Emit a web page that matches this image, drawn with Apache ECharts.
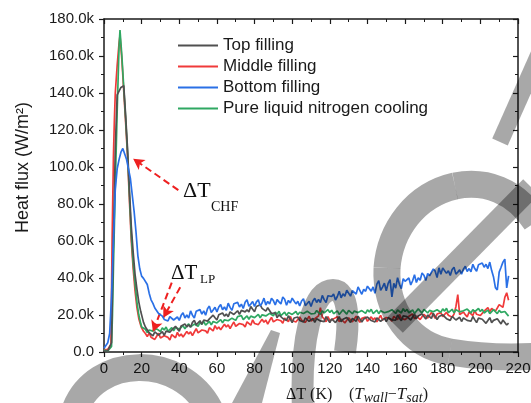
<!DOCTYPE html>
<html>
<head>
<meta charset="utf-8">
<script src="https://cdn.jsdelivr.net/npm/echarts@6.0.0/dist/echarts.min.js"></script>
<style>
  html, body { margin: 0; padding: 0; background: #fff; }
  #chart { width: 531px; height: 403px; }
</style>
</head>
<body>
<div id="chart"></div>
<script>
// heat flux in k W/m2, ΔT in K
const seriesNames = ['Top filling', 'Middle filling', 'Bottom filling', 'Pure liquid nitrogen cooling'];
const seriesColors = ['#505050', '#f03a3a', '#2a70e6', '#2fa862'];

// rising edge + CHF peak, [ΔT, q]
const topHead = [[0, 0.5], [1, 1.0], [2, 0.6], [3, 1.5], [4, 5], [5, 60], [6, 110], [7, 139], [8, 141], [9, 143], [10, 144], [10.5, 144],
  [11.5, 128], [12.5, 110], [13.5, 88], [14.5, 68], [15.5, 54], [16.5, 42], [17.5, 34], [18.5, 27], [19.5, 22]];
const middleHead = [[0, 1.2], [1, 0.8], [2, 1.5], [3, 0.6], [3.7, 4], [4.3, 60], [5, 105], [5.5, 125], [6, 140], [7, 155], [8, 167], [8.5, 171],
  [9.5, 158], [10.5, 141], [11.5, 124], [12.5, 106], [13.5, 82], [14.5, 60], [15.5, 45], [16.5, 33], [17.5, 24], [18.5, 18], [19.5, 14.5]];
const bottomHead = [[0, 2], [1, 3], [2, 5], [3, 10], [4, 30], [5, 60], [6, 88], [7, 99], [8, 104], [9, 108], [10, 110], [11, 107],
  [12, 104], [13, 99], [14, 94], [15, 85], [16, 76], [17, 65], [18, 52], [19, 45]];
const pureHead = [[0, 1], [1, 1.5], [2, 0.5], [3, 1], [4, 3], [4.5, 20], [5, 45], [6, 90], [7, 130], [8, 165], [8.5, 174],
  [9.5, 160], [10.5, 143], [11.5, 126], [12.5, 108], [13.5, 85], [14.5, 63], [15.5, 48], [16.5, 37], [17.5, 27], [18.5, 20], [19.5, 15.5]];

// film boiling tail, one reading per K from 20 K to 215 K
const dtTail = Array.from({ length: 196 }, (_, i) => 20 + i);
const topTail = [
  21.0, 16.0, 13.5, 13.3, 10.4, 10.6, 8.7, 10.9, 11.7, 9.1,
  9.9, 11.0, 9.0, 11.3, 12.3, 10.7, 11.9, 10.9, 13.9, 12.5,
  11.3, 14.1, 13.9, 15.2, 13.6, 14.7, 13.4, 16.0, 17.1, 14.7,
  15.7, 16.9, 15.0, 17.3, 18.3, 16.7, 17.9, 16.9, 19.9, 18.5,
  17.3, 20.1, 19.8, 21.1, 19.4, 20.5, 19.1, 21.7, 22.7, 20.3,
  21.2, 22.3, 20.3, 22.5, 23.4, 21.7, 22.8, 21.7, 24.6, 23.1,
  21.8, 24.6, 24.3, 25.5, 23.6, 24.2, 22.1, 23.9, 24.0, 20.8,
  20.9, 21.2, 18.6, 20.1, 20.4, 18.1, 18.7, 17.1, 19.6, 17.7,
  15.9, 18.4, 17.9, 18.9, 17.0, 17.8, 16.2, 18.5, 19.3, 16.6,
  17.3, 18.2, 16.0, 18.0, 18.7, 16.8, 17.7, 16.4, 19.1, 17.4,
  15.9, 17.9, 18.4, 15.9, 17.4, 19.1, 16.4, 17.7, 16.8, 18.7,
  18.0, 16.0, 18.2, 17.3, 16.6, 19.3, 18.5, 16.2, 17.8, 17.0,
  18.9, 18.9, 17.0, 17.8, 16.2, 18.5, 19.3, 16.6, 17.3, 18.2,
  16.4, 18.5, 19.3, 17.4, 18.4, 17.2, 20.0, 18.3, 16.9, 19.5,
  19.1, 19.1, 19.7, 17.3, 18.9, 20.6, 18.0, 19.4, 18.6, 20.5,
  19.9, 17.8, 20.0, 19.0, 18.2, 20.9, 20.0, 17.6, 19.2, 18.3,
  20.1, 20.0, 18.0, 18.7, 17.1, 19.3, 20.1, 17.3, 17.9, 18.8,
  16.5, 18.4, 19.0, 17.1, 17.9, 16.6, 19.2, 17.5, 15.9, 18.3,
  17.8, 17.7, 18.1, 15.5, 17.0, 18.6, 15.9, 17.1, 16.2, 18.0,
  17.2, 15.2, 17.3, 16.3, 14.6, 15.6
];
const middleTail = [
  13.0, 11.2, 10.0, 8.4, 10.2, 8.0, 9.0, 6.8, 8.5, 10.1,
  7.6, 7.1, 8.8, 9.3, 7.9, 6.5, 9.4, 9.0, 7.7, 10.6,
  8.6, 9.7, 8.1, 8.7, 11.1, 9.7, 10.9, 8.9, 10.8, 12.6,
  10.3, 10.0, 11.9, 12.6, 11.4, 10.2, 13.1, 12.7, 11.4, 14.3,
  12.4, 13.5, 12.0, 12.5, 15.0, 13.5, 14.7, 12.6, 14.5, 16.2,
  13.9, 13.5, 15.4, 16.0, 14.8, 13.5, 16.3, 15.8, 14.5, 17.4,
  15.4, 16.4, 14.8, 15.3, 17.7, 16.1, 17.2, 15.1, 17.0, 18.7,
  16.3, 15.9, 17.6, 18.2, 16.9, 15.5, 18.3, 17.8, 16.4, 19.2,
  17.0, 17.9, 16.2, 16.6, 18.9, 17.2, 18.2, 16.0, 17.7, 19.3,
  16.8, 16.3, 18.0, 18.5, 19.5, 24.0, 19.0, 17.8, 16.4, 19.1,
  17.0, 16.2, 17.9, 17.0, 19.1, 16.4, 17.8, 18.4, 15.7, 17.1,
  18.5, 18.0, 16.3, 16.8, 19.3, 17.7, 16.0, 18.2, 17.2, 18.9,
  16.6, 16.7, 19.0, 17.4, 18.5, 16.3, 18.1, 19.8, 17.3, 16.9,
  18.6, 19.2, 17.9, 16.6, 19.3, 18.8, 17.5, 20.3, 18.2, 19.2,
  17.5, 17.6, 19.3, 18.5, 20.6, 18.0, 19.5, 20.1, 17.5, 19.0,
  20.4, 19.9, 18.3, 18.9, 21.4, 19.9, 18.2, 20.5, 19.6, 21.3,
  19.1, 19.2, 21.5, 19.9, 20.9, 18.8, 20.5, 24.5, 31.0, 20.2,
  21.0, 21.6, 20.2, 18.9, 21.6, 21.1, 19.7, 22.5, 20.4, 21.4,
  19.7, 20.0, 22.1, 21.6, 24.0, 21.7, 23.5, 24.4, 22.1, 23.8,
  25.6, 25.5, 24.1, 29.5, 32.0, 28.0
];
const bottomTail = [
  41.0, 39.8, 40.5, 36.5, 31.8, 28.2, 26.3, 23.8, 22.9, 20.8,
  20.3, 19.4, 17.6, 18.6, 16.8, 19.1, 19.9, 17.3, 18.1, 18.9,
  17.1, 19.8, 21.2, 18.4, 20.0, 18.3, 22.2, 19.9, 18.4, 22.0,
  21.1, 22.9, 20.5, 22.2, 19.9, 23.4, 24.8, 21.4, 22.7, 24.2,
  21.6, 24.3, 25.6, 22.8, 24.3, 22.6, 26.4, 24.1, 22.5, 26.1,
  25.1, 26.8, 24.3, 25.9, 23.5, 26.9, 28.2, 24.7, 25.9, 27.3,
  24.6, 27.1, 28.2, 24.8, 26.5, 29.1, 25.4, 27.3, 26.0, 29.0,
  27.8, 25.4, 28.3, 27.1, 26.0, 29.7, 28.5, 25.3, 27.9, 26.5,
  29.1, 28.6, 26.0, 27.4, 24.9, 27.6, 28.8, 25.1, 26.2, 27.4,
  24.6, 27.6, 29.0, 26.8, 28.4, 26.7, 30.6, 28.3, 26.8, 30.4,
  29.6, 30.0, 31.3, 28.1, 30.0, 32.8, 29.3, 31.4, 30.2, 33.4,
  32.5, 30.2, 33.2, 32.2, 31.3, 35.2, 34.2, 31.2, 33.9, 32.8,
  35.6, 36.6, 32.9, 35.2, 31.7, 36.7, 38.6, 33.3, 35.1, 37.2,
  33.1, 37.1, 39.1, 29.8, 37.1, 34.5, 40.2, 36.6, 34.3, 39.6,
  38.2, 38.4, 40.0, 36.2, 38.5, 41.8, 37.6, 40.1, 38.8, 42.7,
  41.5, 38.7, 42.4, 41.2, 40.2, 44.9, 43.7, 40.2, 45.5, 42.0,
  45.4, 45.1, 42.5, 43.9, 41.4, 44.6, 45.8, 42.1, 43.2, 44.4,
  42.1, 44.8, 46.3, 43.5, 45.1, 43.4, 47.4, 45.1, 43.6, 47.2,
  46.3, 48.1, 45.8, 47.4, 45.1, 48.6, 44.0, 40.5, 34.8, 33.5,
  43.2, 45.8, 48.6, 50.2, 34.6, 41.2
];
const pureTail = [
  13.5, 12.5, 12.3, 10.5, 11.9, 12.9, 11.3, 10.5, 12.5, 12.0,
  11.1, 13.0, 11.9, 13.5, 11.2, 11.9, 13.2, 11.4, 13.2, 13.9,
  12.4, 13.2, 14.3, 12.5, 14.1, 15.2, 13.6, 13.0, 15.1, 14.7,
  13.9, 16.0, 14.9, 16.6, 14.5, 15.2, 16.5, 14.7, 16.5, 17.2,
  15.7, 16.5, 17.5, 15.8, 17.4, 18.4, 16.9, 16.2, 18.3, 18.0,
  17.1, 19.1, 18.1, 19.7, 17.5, 18.2, 19.5, 17.7, 19.4, 20.0,
  18.6, 19.3, 20.3, 18.5, 20.1, 21.1, 19.5, 18.8, 20.9, 20.5,
  19.6, 21.6, 20.4, 22.0, 19.7, 20.4, 21.5, 19.7, 21.3, 21.9,
  20.3, 21.0, 21.9, 20.1, 21.5, 22.5, 20.8, 20.1, 22.0, 21.6,
  20.6, 21.4, 20.8, 22.4, 21.9, 20.3, 22.2, 21.1, 20.6, 22.9,
  21.4, 22.6, 20.7, 21.7, 22.2, 20.3, 21.1, 22.8, 21.9, 20.5,
  22.5, 22.5, 20.7, 22.1, 23.0, 21.3, 20.5, 22.4, 21.9, 20.9,
  22.8, 21.6, 23.1, 20.8, 21.4, 22.6, 20.7, 22.3, 22.8, 21.2,
  21.8, 21.8, 21.2, 22.9, 22.4, 20.8, 22.7, 21.7, 21.1, 23.4,
  21.9, 23.0, 21.2, 22.2, 22.7, 20.8, 21.6, 23.3, 22.4, 21.0,
  23.0, 23.0, 21.1, 22.5, 23.4, 21.7, 20.9, 22.8, 22.4, 21.4,
  23.3, 22.1, 23.6, 21.3, 21.9, 23.1, 21.2, 22.8, 23.3, 21.7,
  22.3, 22.3, 21.7, 23.2, 22.7, 21.1, 22.9, 21.8, 21.2, 23.5,
  21.9, 23.0, 21.1, 22.1, 22.6, 20.7, 21.4, 22.9, 22.0, 20.7,
  22.5, 21.4, 20.8, 21.9, 20.6, 19.4
];

// annotation arrows in data coords [ΔT, q]
const chfArrow = [[39.5, 87.5], [15.5, 104.5]];
const lpArrows = [
  [[36.0, 37.5], [26.0, 11.0]],
  [[40.5, 35.0], [31.5, 18.5]]
];

const xTicks = { min: 0, max: 220, interval: 20 };
const yTicks = { min: 0, max: 180, interval: 20 };

const join = (head, tail) => head.concat(dtTail.map((t, i) => [t, tail[i]]));
const seriesData = [join(topHead, topTail), join(middleHead, middleTail), join(bottomHead, bottomTail), join(pureHead, pureTail)];
const seriesZ = [4, 2, 5, 3];

const ink = '#1a1a1a';
const sans = '"Liberation Sans", Arial, sans-serif';
const serif = '"Liberation Serif", "Times New Roman", serif';

const axisCommon = (inside) => ({
  axisLine: { show: true, onZero: false, lineStyle: { color: ink, width: 1.5 } },
  axisTick: { show: true, inside: inside, length: 5, lineStyle: { color: ink, width: 1.2 } },
  minorTick: { show: true, splitNumber: 2, length: 3, lineStyle: { color: ink, width: 1 } },
  splitLine: { show: false }
});

const chart = echarts.init(document.getElementById('chart'), null, { renderer: 'canvas' });

const arrowLine = {
  silent: true,
  symbol: ['none', 'arrow'],
  symbolSize: [9, 11],
  label: { show: false },
  lineStyle: { color: '#ee2020', width: 2, type: [7, 4] },
  data: [
    [{ coord: chfArrow[0] }, { coord: chfArrow[1] }],
    [{ coord: lpArrows[0][0] }, { coord: lpArrows[0][1] }],
    [{ coord: lpArrows[1][0] }, { coord: lpArrows[1][1] }]
  ]
};

// grey watermark strokes sitting on top of the plot (page pixels)
const wm = 'rgba(0,0,0,0.34)';
const curve = (p, w) => ({
  type: 'bezierCurve', z: 100, silent: true,
  shape: { x1: p[0], y1: p[1], cpx1: p[2], cpy1: p[3], cpx2: p[4], cpy2: p[5], x2: p[6], y2: p[7] },
  style: { fill: null, stroke: wm, lineWidth: w }
});
const straight = (p, w) => ({
  type: 'line', z: 100, silent: true,
  shape: { x1: p[0], y1: p[1], x2: p[2], y2: p[3] },
  style: { stroke: wm, lineWidth: w }
});
const watermark = [
  curve([75, 410, 95, 355, 180, 352, 210, 410], 27),
  { type: 'polygon', z: 100, silent: true, shape: { points: [[232, 403], [262, 403], [280, 333], [271, 330]] }, style: { fill: wm } },
  curve([303, 410, 300, 340, 312, 290, 333, 290], 22),
  curve([333, 290, 350, 290, 349, 325, 345, 352], 22),
  curve([536, 222, 515, 190, 485, 180, 455, 186], 27),
  curve([455, 186, 415, 195, 390, 230, 387, 268], 27),
  curve([387, 268, 385, 310, 410, 345, 450, 352], 27),
  curve([450, 352, 480, 357, 510, 358, 540, 356], 27),
  straight([395, 325, 531, 187], 22),
  straight([540, 52, 500, 142], 17)
];

const option = {
  animation: false,
  backgroundColor: '#fff',
  grid: { left: 104, right: 13, top: 19, bottom: 51, containLabel: false, outerBoundsMode: 'none' },
  legend: {
    data: seriesNames,
    orient: 'vertical',
    left: 178,
    top: 36,
    padding: 0,
    icon: 'rect',
    itemWidth: 40,
    itemHeight: 2,
    itemGap: 2,
    textStyle: { fontFamily: sans, fontSize: 17, color: ink, lineHeight: 19 }
  },
  xAxis: [
    Object.assign({
      type: 'value', position: 'bottom', min: xTicks.min, max: xTicks.max, interval: xTicks.interval,
      axisLabel: { fontFamily: sans, fontSize: 15, color: ink, margin: 9 },
      name: '{a|ΔT (K)}     {a|(}{i|T}{s|wall}{a|−}{i|T}{s|sat}{a|)}',
      nameLocation: 'middle',
      nameGap: 32,
      nameTextStyle: {
        padding: [0, 0, 0, 92],
        rich: {
          a: { fontFamily: serif, fontSize: 16, color: ink },
          i: { fontFamily: serif, fontSize: 17, fontStyle: 'italic', color: ink },
          s: { fontFamily: serif, fontSize: 14, fontStyle: 'italic', color: ink, padding: [7, 0, 0, 0] }
        }
      }
    }, axisCommon(false)),
    Object.assign({
      type: 'value', position: 'top', min: xTicks.min, max: xTicks.max, interval: xTicks.interval,
      axisLabel: { show: false }
    }, axisCommon(true))
  ],
  yAxis: [
    Object.assign({
      type: 'value', position: 'left', min: yTicks.min, max: yTicks.max, interval: yTicks.interval,
      axisLabel: {
        fontFamily: sans, fontSize: 15, color: ink, margin: 10,
        formatter: (v) => v === 0 ? '0.0' : v.toFixed(1) + 'k'
      },
      name: 'Heat flux (W/m²)',
      nameLocation: 'middle',
      nameGap: 72,
      nameTextStyle: { fontFamily: sans, fontSize: 18, color: ink, padding: [0, 0, 0, 36] }
    }, axisCommon(false)),
    Object.assign({
      type: 'value', position: 'right', min: yTicks.min, max: yTicks.max, interval: yTicks.interval,
      axisLabel: { show: false }
    }, axisCommon(true))
  ],
  series: seriesNames.map((name, k) => ({
    name: name,
    type: 'line',
    data: seriesData[k],
    z: seriesZ[k],
    symbol: 'none',
    color: seriesColors[k],
    lineStyle: { width: 1.7, color: seriesColors[k] },
    markLine: k === 2 ? arrowLine : undefined
  })).concat([{
    // keeps the top and right frame axes alive
    name: 'frame', type: 'line', xAxisIndex: 1, yAxisIndex: 1, data: [], silent: true, symbol: 'none'
  }]),
  graphic: [
    { type: 'text', left: 183, top: 180, z: 10, style: { text: 'ΔT', font: '22px ' + serif, fill: '#111' } },
    { type: 'text', left: 211, top: 200, z: 10, style: { text: 'CHF', font: '14px ' + serif, fill: '#111' } },
    { type: 'text', left: 171, top: 263, z: 10, style: { text: 'ΔT', font: '21px ' + serif, fill: '#111' } },
    { type: 'text', left: 200, top: 273, z: 10, style: { text: 'LP', font: '13px ' + serif, fill: '#111' } }
  ].concat(watermark)
};

chart.setOption(option);
</script>
</body>
</html>
